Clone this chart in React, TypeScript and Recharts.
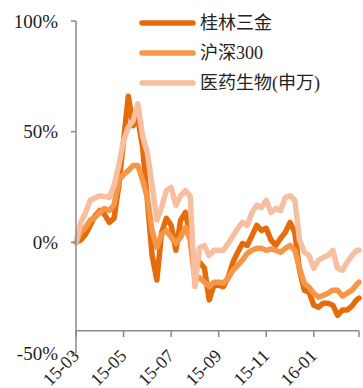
import React from "react";
import { LineChart, Line, XAxis, YAxis, ReferenceLine } from "recharts";

const months = [
  0, 0.2, 0.4, 0.6, 0.8, 1, 1.2, 1.4, 1.6, 1.8, 2, 2.2, 2.4, 2.6, 2.8, 3, 3.2, 3.4, 3.6, 3.8,
  4, 4.2, 4.4, 4.6, 4.8, 5, 5.2, 5.4, 5.6, 5.8, 6, 6.2, 6.4, 6.6, 6.8, 7, 7.2, 7.4, 7.6, 7.8,
  8, 8.2, 8.4, 8.6, 8.8, 9, 9.2, 9.4, 9.6, 9.8, 10, 10.2, 10.4, 10.6, 10.8, 11, 11.2, 11.4, 11.6, 11.8, 11.9,
];

// 桂林三金
const guilin = [
  0, 1, 3.6, 7.7, 12, 14.4, 12.6, 9, 10.8, 25.7, 46, 66, 52.7, 56, 43, 19, -5.9, -17, 4.5, 10.8,
  7.7, -3.6, 10, 13.5, 3, -9, -9, -11.7, -26, -19.4, -19.4, -20, -15.8, -9, -4.5, -0.5, -1.4, 3, 7.7, 5.4,
  6.3, 1, -1.4, 1.8, 4.5, 9, 4.5, -12.6, -21.6, -22.5, -28.4, -29.3, -27.5, -27.5, -28.4, -33, -30.6, -30.6, -28.8, -26, -25.2,
];

// 沪深300
const hs300 = [
  0, 4.5, 6.8, 10, 11.3, 13.5, 15.3, 14.4, 17, 28, 30.6, 32.4, 34.7, 34.7, 28, 20.3, 5.4, -2.3, 3.6, 5.4,
  2.3, -0.5, 2.3, 6.8, 1, -17, -16, -18, -20, -18, -18, -18.5, -16, -12.6, -10.4, -8, -5, -3.6, -2.7, -2.7,
  -3.6, -3, -3.6, -4.5, -2.7, -1.4, -3.6, -11.7, -18.5, -20.3, -23, -24.8, -23.9, -23, -21.6, -21.6, -24.3, -23, -21.6, -19, -18,
];

// 医药生物(申万)
const yiyao = [
  0, 9, 13.5, 19, 20, 21, 20.7, 20.3, 25.7, 34.7, 46, 52, 55, 62.6, 48, 40.5, 25.7, 10, 15.8, 23.4,
  24.8, 16.7, 21, 23.4, 21, -20, -2.3, -1.4, -6, -3.6, -3.6, -3.6, -0.5, 3, 6.3, 9, 7.7, 13.5, 16.7, 15.8,
  19, 13.5, 15.3, 14.4, 20.3, 21, 19, 1, -4.5, -6, -11.7, -8, -6.8, -5.9, -3.6, -11.7, -12.6, -9, -6, -3.6, -3.6,
];

const seriesKeys = ["guilin", "hs300", "yiyao"];
const seriesNames = ["桂林三金", "沪深300", "医药生物(申万)"];
const seriesColors = ["#E46C0A", "#F79646", "#F7BFA0"];

const xTicks = [0, 2, 4, 6, 8, 10];
const xTickLabels = ["15-03", "15-05", "15-07", "15-09", "15-11", "16-01"];
const xEnd = 11.9;
const yTicks = [-50, 0, 50, 100];
const axisCross = -40;

const data = months.map((m, i) => ({
  m,
  guilin: guilin[i],
  hs300: hs300[i],
  yiyao: yiyao[i],
}));

const FONT = "'Liberation Serif', 'DejaVu Serif', 'Noto Sans CJK SC', serif";
const AXIS = "#8a8a8a";

const XTick = (props: any) => {
  const { x, y, payload } = props;
  const idx = xTicks.indexOf(payload.value);
  return (
    <text
      transform={`translate(${x + 4},${y + 4}) rotate(-45)`}
      textAnchor="end"
      style={{ fontSize: 18, fontFamily: FONT }}
      fill="#222"
    >
      {xTickLabels[idx]}
    </text>
  );
};

const YTick = (props: any) => {
  const { x, y, payload } = props;
  return (
    <text x={x} y={y} dy="0.35em" textAnchor="end" style={{ fontSize: 19, fontFamily: FONT }} fill="#222">
      {`${payload.value}%`}
    </text>
  );
};

const LegendBox = () => (
  <div style={{ position: "absolute", left: 137, top: 8, fontFamily: FONT }}>
    {seriesNames.map((name, i) => (
      <div key={name} style={{ display: "flex", alignItems: "center", height: 30 }}>
        <svg width={60} height={10}>
          <line x1={5} y1={5} x2={56} y2={5} stroke={seriesColors[i]} strokeWidth={5.5} strokeLinecap="round" />
        </svg>
        <span style={{ fontSize: 18, color: "#222", marginLeft: 3, lineHeight: "30px" }}>{name}</span>
      </div>
    ))}
  </div>
);

export default function App() {
  return (
    <div style={{ position: "absolute", left: 0, top: 0, width: 363, height: 388, background: "#fff", overflow: "hidden" }}>
      <LineChart
        width={363}
        height={388}
        data={data}
        margin={{ top: 21, right: 4, left: 0, bottom: 0 }}
      >
        <XAxis
          dataKey="m"
          type="number"
          domain={[0, xEnd]}
          ticks={xTicks}
          height={35}
          axisLine={false}
          tickLine={false}
          tickSize={0}
          tickMargin={0}
          tick={<XTick />}
          interval={0}
        />
        <YAxis
          domain={[-50, 100]}
          ticks={yTicks}
          width={76}
          tick={<YTick />}
          axisLine={{ stroke: AXIS, strokeWidth: 1.5 }}
          tickLine={{ stroke: AXIS, strokeWidth: 1.5 }}
          tickSize={5}
          tickMargin={13}
          allowDataOverflow
        />
        <ReferenceLine y={axisCross} stroke={AXIS} strokeWidth={1.5} />
        {[...xTicks, xEnd].map((t) => (
          <ReferenceLine
            key={t}
            segment={[
              { x: t, y: axisCross },
              { x: t, y: axisCross - 2.8 },
            ]}
            stroke={AXIS}
            strokeWidth={1.5}
          />
        ))}
        {seriesKeys.map((k, i) => (
          <Line
            key={k}
            dataKey={k}
            name={seriesNames[i]}
            stroke={seriesColors[i]}
            strokeWidth={5.5}
            dot={false}
            strokeLinejoin="round"
            strokeLinecap="round"
            isAnimationActive={false}
            type="linear"
          />
        ))}
      </LineChart>
      <LegendBox />
    </div>
  );
}
